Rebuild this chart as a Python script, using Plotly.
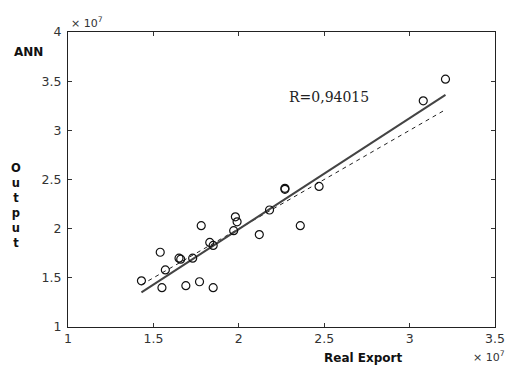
import plotly.graph_objects as go

# Values in units of 1e7
real_export = [1.43, 1.55, 1.54, 1.57, 1.65, 1.66, 1.69, 1.73, 1.78, 1.77, 1.83, 1.85,
               1.85, 1.98, 1.99, 1.97, 2.12, 2.18, 2.27, 2.27, 2.36, 2.47, 3.08, 3.21]
ann_output = [1.47, 1.40, 1.76, 1.58, 1.70, 1.69, 1.42, 1.70, 2.03, 1.46, 1.86, 1.83,
              1.40, 2.12, 2.07, 1.98, 1.94, 2.19, 2.41, 2.40, 2.03, 2.43, 3.30, 3.52]
fit_slope = 1.128
fit_intercept = -0.261
r_label = "R=0,94015"
x_ticks = [1, 1.5, 2, 2.5, 3, 3.5]
y_ticks = [1, 1.5, 2, 2.5, 3, 3.5, 4]

xmin, xmax = min(real_export), max(real_export)
line_x = [xmin, xmax]
fit_y = [fit_slope * v + fit_intercept for v in line_x]

fig = go.Figure()
fig.add_trace(go.Scatter(x=line_x, y=line_x, mode="lines",
                         line=dict(color="#222222", width=1, dash="4px,4px"),
                         showlegend=False, hoverinfo="skip"))
fig.add_trace(go.Scatter(x=line_x, y=fit_y, mode="lines",
                         line=dict(color="#444444", width=2),
                         showlegend=False, hoverinfo="skip"))
fig.add_trace(go.Scatter(x=real_export, y=ann_output, mode="markers",
                         marker=dict(symbol="circle-open", size=8,
                                     color="#111111", line=dict(width=1.2, color="#111111")),
                         showlegend=False))

tickfont = dict(family="DejaVu Sans", size=12.5, color="#333333")
fig.update_xaxes(range=[1, 3.5], tickvals=x_ticks, ticks="inside", ticklen=4,
                 tickcolor="#333333", showline=True, linecolor="#222222", linewidth=1,
                 mirror="allticks", showgrid=False, zeroline=False, tickfont=tickfont,
                 automargin=False)
fig.update_yaxes(range=[1, 4], tickvals=y_ticks, ticks="inside", ticklen=4,
                 tickcolor="#333333", showline=True, linecolor="#222222", linewidth=1,
                 mirror="allticks", showgrid=False, zeroline=False, tickfont=tickfont,
                 ticklabelstandoff=3, automargin=False)

W, H = 506, 365
L, R, T, B = 68, 11, 32, 38
pw, ph = W - L - R, H - T - B

# (text, pixel x, pixel y in the screenshot, font)
pix_texts = [
    ("<b>ANN</b>", 28, 52, dict(family="DejaVu Sans", size=12, color="#111111")),
    ("<b>O<br>u<br>t<br>p<br>u<br>t</b>", 16, 205, dict(family="DejaVu Sans", size=11.5, color="#111111")),
    ("<b>Real Export</b>", 363, 358, dict(family="DejaVu Sans", size=12, color="#111111")),
    ("× 10<sup>7</sup>", 87, 22, dict(family="DejaVu Sans", size=11, color="#333333")),
    ("× 10<sup>7</sup>", 489, 356, dict(family="DejaVu Sans", size=11, color="#333333")),
]
anns = [dict(text=r_label, x=2.53, y=3.34, xref="x", yref="y", showarrow=False,
             font=dict(family="DejaVu Serif", size=14, color="#222222"))]
for text, px, py, font in pix_texts:
    anns.append(dict(text=text, showarrow=False, font=font,
                     xref="paper", yref="paper", xanchor="center", yanchor="middle",
                     x=(px - L) / pw, y=(H - py - B) / ph))

fig.update_layout(width=W, height=H, margin=dict(l=L, r=R, t=T, b=B, autoexpand=False),
                  plot_bgcolor="white", paper_bgcolor="white",
                  annotations=anns)

fig.write_html("out.html", config={"displayModeBar": False, "staticPlot": True},
               post_script="document.body.style.margin='0';document.body.style.overflow='hidden';")
